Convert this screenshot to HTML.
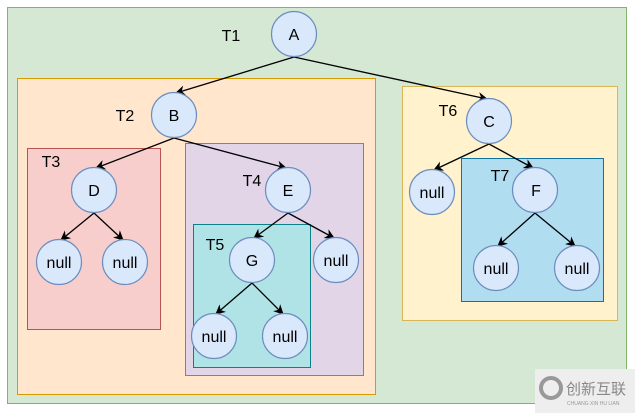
<!DOCTYPE html>
<html><head><meta charset="utf-8"><style>body{margin:0;background:#fff}</style></head><body>
<svg width="635" height="413" xmlns="http://www.w3.org/2000/svg" font-family="Liberation Sans, sans-serif" font-size="16">
<defs><marker id="ar" markerWidth="10" markerHeight="10" refX="9" refY="5" orient="auto" markerUnits="userSpaceOnUse"><path d="M0,0 L10,5 L0,10 L3,5 z" fill="#000"/></marker></defs>
<rect x="7.5" y="7.5" width="619" height="396" fill="#d5e8d4" stroke="#82b366"/>
<rect x="17.5" y="78.5" width="358" height="316" fill="#ffe6cc" stroke="#d79b00"/>
<rect x="27.5" y="148.5" width="133" height="181" fill="#f8cecc" stroke="#b85450"/>
<rect x="185.5" y="143.5" width="178" height="232" fill="#e1d5e7" stroke="#9673a6"/>
<rect x="193.5" y="224.5" width="117" height="143" fill="#b0e3e6" stroke="#0e8088"/>
<rect x="402.5" y="86.5" width="215" height="234" fill="#fff2cc" stroke="#d6b656"/>
<rect x="461.5" y="158.5" width="142" height="143" fill="#b1ddf0" stroke="#10739e"/>
<g stroke="#000" stroke-width="1.3" marker-end="url(#ar)">
<line x1="294" y1="57" x2="176" y2="93"/>
<line x1="294" y1="57" x2="487" y2="99"/>
<line x1="174" y1="138" x2="96" y2="168"/>
<line x1="174" y1="138" x2="286" y2="168"/>
<line x1="489" y1="144" x2="434" y2="170"/>
<line x1="489" y1="144" x2="533" y2="168"/>
<line x1="94" y1="213" x2="61" y2="240"/>
<line x1="94" y1="213" x2="123" y2="240"/>
<line x1="288" y1="213" x2="254" y2="238"/>
<line x1="288" y1="213" x2="334" y2="238"/>
<line x1="252" y1="283" x2="216" y2="314"/>
<line x1="252" y1="283" x2="283" y2="314"/>
<line x1="535" y1="213" x2="498" y2="246"/>
<line x1="535" y1="213" x2="575" y2="246"/>
</g>
<g fill="#dae8fc" stroke="#6c8ebf" stroke-width="1.2">
<circle cx="294" cy="34" r="22.5"/><circle cx="174" cy="115" r="22.5"/><circle cx="489" cy="121" r="22.5"/>
<circle cx="94" cy="190" r="22.5"/><circle cx="288" cy="190" r="22.5"/><circle cx="252" cy="260" r="22.5"/>
<circle cx="336" cy="260" r="22.5"/><circle cx="59" cy="262" r="22.5"/><circle cx="125" cy="262" r="22.5"/>
<circle cx="214" cy="336" r="22.5"/><circle cx="285" cy="336" r="22.5"/><circle cx="432" cy="192" r="22.5"/>
<circle cx="535" cy="190" r="22.5"/><circle cx="496" cy="268" r="22.5"/><circle cx="577" cy="268" r="22.5"/>
</g>
<g text-anchor="middle" fill="#000">
<text x="294" y="40">A</text><text x="174" y="121">B</text><text x="489" y="127">C</text>
<text x="94" y="196">D</text><text x="288" y="196">E</text><text x="252" y="266">G</text>
<text x="536" y="196">F</text>
<text x="336" y="266">null</text><text x="59" y="268">null</text><text x="125" y="268">null</text>
<text x="214" y="342">null</text><text x="285" y="342">null</text><text x="432" y="198">null</text>
<text x="496" y="274">null</text><text x="577" y="274">null</text>
<text x="231" y="41">T1</text><text x="125" y="121">T2</text><text x="51" y="167">T3</text>
<text x="252" y="186">T4</text><text x="215" y="250">T5</text><text x="448" y="116">T6</text><text x="500" y="181">T7</text>
</g>
<rect x="535" y="369" width="100" height="44" fill="#eeeeee"/>
<circle cx="551" cy="388" r="10" fill="none" stroke="#999" stroke-width="4"/>
<text x="566" y="394" font-size="15" fill="#888" font-family="Noto Sans CJK SC, sans-serif">创新互联</text>
<text x="567" y="405" font-size="5" fill="#999">CHUANG XIN HU LIAN</text>
</svg>
</body></html>
